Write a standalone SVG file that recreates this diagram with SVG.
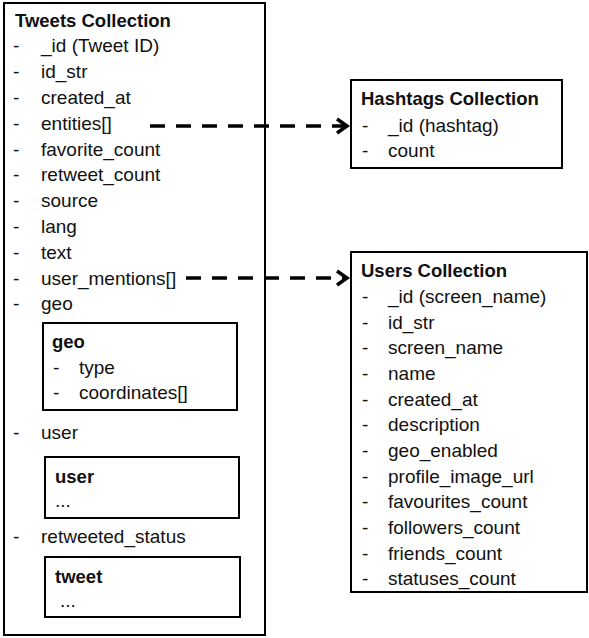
<svg xmlns="http://www.w3.org/2000/svg" width="589" height="638" viewBox="0 0 589 638">
<defs>
<style>
.box{fill:#fff;stroke:#000;stroke-width:2}
text{font-family:"Liberation Sans",Arial,sans-serif;font-size:19px;fill:#111}
.t{font-weight:bold;font-size:18.5px}
.conn{fill:none;stroke:#000;stroke-width:3.5;stroke-dasharray:15,11}
</style>
<marker id="ah" markerWidth="16" markerHeight="18" refX="12" refY="9" orient="auto" markerUnits="userSpaceOnUse">
<polyline points="2,2 12,9 2,16" fill="none" stroke="#000" stroke-width="3.5" stroke-linejoin="miter"/>
</marker>
</defs>
<rect width="589" height="638" fill="#fff"/>
<g id="tweets">
<rect class="box" x="4" y="3" width="261" height="632"/>
<text class="t" x="15" y="27">Tweets Collection</text>
<g>
<text x="13" y="52">-</text><text x="41" y="52">_id (Tweet ID)</text>
<text x="13" y="78">-</text><text x="41" y="78">id_str</text>
<text x="13" y="104">-</text><text x="41" y="104">created_at</text>
<text x="13" y="130">-</text><text x="41" y="130">entities[]</text>
<text x="13" y="156">-</text><text x="41" y="156">favorite_count</text>
<text x="13" y="181">-</text><text x="41" y="181">retweet_count</text>
<text x="13" y="207">-</text><text x="41" y="207">source</text>
<text x="13" y="233">-</text><text x="41" y="233">lang</text>
<text x="13" y="259">-</text><text x="41" y="259">text</text>
<text x="13" y="285">-</text><text x="41" y="285">user_mentions[]</text>
<text x="13" y="310">-</text><text x="41" y="310">geo</text>
<text x="13" y="439">-</text><text x="41" y="439">user</text>
<text x="13" y="543">-</text><text x="41" y="543">retweeted_status</text>
</g>
<g id="geo">
<rect class="box" x="43" y="323" width="194" height="87"/>
<text class="t" x="52" y="348">geo</text>
<text x="53" y="374">-</text><text x="79" y="374">type</text>
<text x="53" y="399">-</text><text x="79" y="399">coordinates[]</text>
</g>
<g id="user">
<rect class="box" x="45" y="457" width="194" height="61"/>
<text class="t" x="55" y="483">user</text>
<text x="55" y="507">...</text>
</g>
<g id="tweet">
<rect class="box" x="45" y="557" width="195" height="60"/>
<text class="t" x="55" y="583">tweet</text>
<text x="60" y="607">...</text>
</g>
</g>
<g id="hashtags">
<rect class="box" x="351" y="80" width="211" height="88"/>
<text class="t" x="361" y="105">Hashtags Collection</text>
<text x="362" y="132">-</text><text x="388" y="132">_id (hashtag)</text>
<text x="362" y="157">-</text><text x="388" y="157">count</text>
</g>
<g id="users">
<rect class="box" x="351" y="252" width="236" height="340"/>
<text class="t" x="361" y="277">Users Collection</text>
<text x="362" y="303">-</text><text x="388" y="303">_id (screen_name)</text>
<text x="362" y="329">-</text><text x="388" y="329">id_str</text>
<text x="362" y="354">-</text><text x="388" y="354">screen_name</text>
<text x="362" y="380">-</text><text x="388" y="380">name</text>
<text x="362" y="406">-</text><text x="388" y="406">created_at</text>
<text x="362" y="431">-</text><text x="388" y="431">description</text>
<text x="362" y="457">-</text><text x="388" y="457">geo_enabled</text>
<text x="362" y="483">-</text><text x="388" y="483">profile_image_url</text>
<text x="362" y="508">-</text><text x="388" y="508">favourites_count</text>
<text x="362" y="534">-</text><text x="388" y="534">followers_count</text>
<text x="362" y="560">-</text><text x="388" y="560">friends_count</text>
<text x="362" y="585">-</text><text x="388" y="585">statuses_count</text>
</g>
<g id="connectors">
<path class="conn" d="M150,126 H347" marker-end="url(#ah)"/>
<path class="conn" d="M186,278 H347" marker-end="url(#ah)"/>
</g>
</svg>
